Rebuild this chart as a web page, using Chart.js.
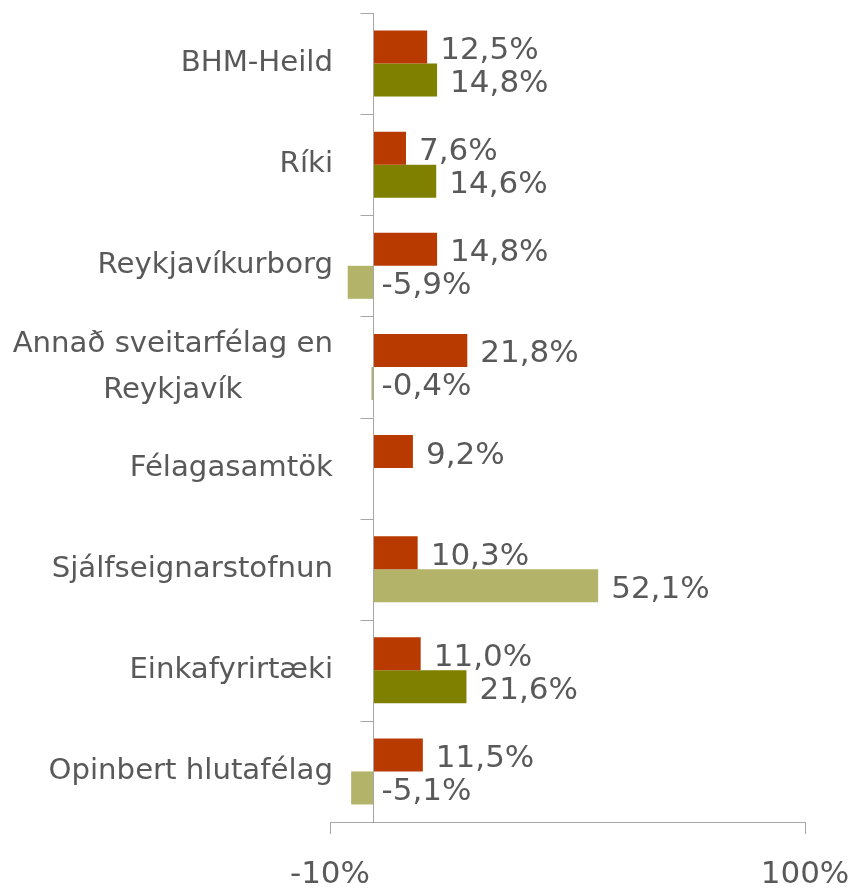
<!DOCTYPE html>
<html>
<head>
<meta charset="utf-8">
<script src="https://cdn.jsdelivr.net/npm/chart.js@4"></script>
<style>
  html, body { margin: 0; padding: 0; background: #fff; }
  #wrap { width: 854px; height: 889px; }
</style>
</head>
<body>
<div id="wrap"><canvas id="chart"></canvas></div>
<script>
// ============================================================
// DATA
// ============================================================
const CATEGORIES = [
  'BHM-Heild',
  'Ríki',
  'Reykjavíkurborg',
  ['Annað sveitarfélag en', 'Reykjavík'],
  'Félagasamtök',
  'Sjálfseignarstofnun',
  'Einkafyrirtæki',
  'Opinbert hlutafélag'
];
const SERIES_RED = [12.5, 7.6, 14.8, 21.8, 9.2, 10.3, 11.0, 11.5];
const SERIES_GREEN = [14.8, 14.6, -5.9, -0.4, null, 52.1, 21.6, -5.1];
const X_TICKS = [-10, 100];

// ============================================================
// STYLE
// ============================================================
const COLORS = {
  red: '#B83A00',
  olive: '#7F7F00',
  paleOlive: '#B3B36A',
  text: '#595959',
  axis: '#A6A6A6'
};
// light shade used for the bars that are drawn paler in the source
const GREEN_SHADES = [COLORS.olive, COLORS.olive, COLORS.paleOlive, COLORS.paleOlive,
  COLORS.paleOlive, COLORS.paleOlive, COLORS.olive, COLORS.paleOlive];

const LABEL_FONT = '29.2px "DejaVu Sans"';
const VALUE_FONT = '31px "DejaVu Sans"';

function fmtPct(v) {
  return v.toFixed(1).replace('.', ',') + '%';
}

// ============================================================
// PLUGIN: y axis at zero, category labels, value labels
// ============================================================
const overlayPlugin = {
  id: 'overlay',
  afterDatasetsDraw(chart) {
    const { ctx, chartArea, scales } = chart;
    const xs = scales.x;
    const ys = scales.y;
    const x0 = Math.round(xs.getPixelForValue(0)) + 0.5;
    const band = (chartArea.bottom - chartArea.top) / CATEGORIES.length;

    ctx.save();
    // axis line + boundary ticks
    ctx.strokeStyle = COLORS.axis;
    ctx.lineWidth = 1;
    ctx.beginPath();
    ctx.moveTo(x0, chartArea.top);
    ctx.lineTo(x0, chartArea.bottom);
    for (let i = 0; i <= CATEGORIES.length; i++) {
      const y = Math.round(chartArea.top + i * band) + 0.5;
      ctx.moveTo(x0 - 13, y);
      ctx.lineTo(x0, y);
    }
    ctx.stroke();

    // category labels (right aligned block, lines centered within block)
    ctx.fillStyle = COLORS.text;
    ctx.font = LABEL_FONT;
    ctx.textBaseline = 'middle';
    ctx.textAlign = 'center';
    const rightEdge = 333;
    const lineGap = 46;
    CATEGORIES.forEach((label, i) => {
      const lines = Array.isArray(label) ? label : [label];
      const widest = Math.max(...lines.map(l => ctx.measureText(l).width));
      const cx = rightEdge - widest / 2;
      const cy = ys.getPixelForValue(i);
      lines.forEach((line, j) => {
        const y = cy + (j - (lines.length - 1) / 2) * lineGap;
        ctx.fillText(line, cx, y);
      });
    });

    // value labels
    ctx.font = VALUE_FONT;
    ctx.textAlign = 'left';
    chart.data.datasets.forEach((ds, d) => {
      const meta = chart.getDatasetMeta(d);
      meta.data.forEach((bar, i) => {
        const v = ds.data[i];
        if (v === null || v === undefined) return;
        const x = v >= 0 ? xs.getPixelForValue(v) + 13 : x0 + 8;
        ctx.fillText(fmtPct(v), x, bar.y + 4);
      });
    });
    ctx.restore();
  }
};

// ============================================================
// CHART
// ============================================================
new Chart(document.getElementById('chart'), {
  type: 'bar',
  data: {
    labels: CATEGORIES,
    datasets: [
      {
        label: 'A',
        data: SERIES_RED,
        backgroundColor: COLORS.red,
        barPercentage: 1,
        categoryPercentage: 0.653
      },
      {
        label: 'B',
        data: SERIES_GREEN,
        backgroundColor: GREEN_SHADES,
        barPercentage: 1,
        categoryPercentage: 0.653
      }
    ]
  },
  options: {
    indexAxis: 'y',
    responsive: true,
    maintainAspectRatio: false,
    animation: false,
    layout: { padding: { top: 13, right: 49, left: 0, bottom: 0 } },
    plugins: {
      legend: { display: false },
      tooltip: { enabled: false }
    },
    scales: {
      x: {
        type: 'linear',
        min: -10,
        max: 100,
        afterBuildTicks: scale => { scale.ticks = X_TICKS.map(v => ({ value: v })); },
        afterFit: scale => {
          scale.height = 67;
          scale.paddingLeft = 0;
          scale.paddingRight = 0;
        },
        border: { display: true, color: COLORS.axis },
        grid: { drawOnChartArea: false, drawTicks: true, tickLength: 12, color: COLORS.axis },
        ticks: {
          color: COLORS.text,
          font: { family: 'DejaVu Sans', size: 31 },
          padding: 22,
          maxRotation: 0,
          callback: v => v + '%'
        }
      },
      y: {
        type: 'category',
        ticks: { display: false },
        grid: { display: false },
        border: { display: false },
        afterFit: scale => { scale.width = 330; }
      }
    }
  },
  plugins: [overlayPlugin]
});
</script>
</body>
</html>
